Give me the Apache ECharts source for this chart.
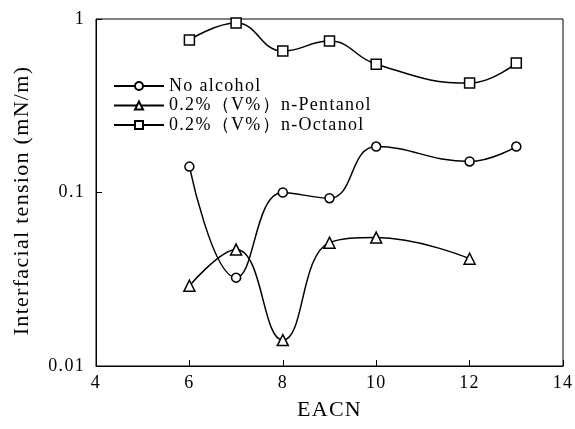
<!DOCTYPE html>
<html>
<head>
<meta charset="utf-8">
<script src="https://cdn.jsdelivr.net/npm/echarts@6/dist/echarts.min.js"></script>
<style>
  html, body { margin: 0; padding: 0; background: #fff; }
  #chart { width: 575px; height: 429px; }
</style>
</head>
<body>
<div id="chart"></div>
<script>
// Interfacial tension vs. EACN for three formulations
const eacnNoAlcohol = [6, 7, 8, 9, 10, 12, 13];
const tensionNoAlcohol = [0.141, 0.0323, 0.1, 0.0927, 0.184, 0.151, 0.184];

const eacnPentanol = [6, 7, 8, 9, 10, 12];
const tensionPentanol = [0.029, 0.0469, 0.0141, 0.0514, 0.055, 0.0415];

const eacnOctanol = [6, 7, 8, 9, 10, 12, 13];
const tensionOctanol = [0.757, 0.948, 0.653, 0.746, 0.549, 0.427, 0.557];

const seriesNames = ['No alcohol', '0.2%（V%）n-Pentanol', '0.2%（V%）n-Octanol'];
const xTicks = [4, 6, 8, 10, 12, 14];
const yTicks = [0.01, 0.1, 1];

const pair = (xs, ys) => xs.map((x, i) => [x, ys[i]]);

const font = '"Liberation Serif", "Times New Roman", serif';

// Slightly wide-set type for every label drawn on the canvas
const baseFillText = CanvasRenderingContext2D.prototype.fillText;
CanvasRenderingContext2D.prototype.fillText = function (...args) {
  const prev = this.letterSpacing;
  this.letterSpacing = '1.3px';
  baseFillText.apply(this, args);
  this.letterSpacing = prev;
};

function makeSeries(name, data, symbol, size) {
  return {
    name: name,
    type: 'line',
    data: data,
    smooth: 0.45,
    symbol: symbol,
    symbolSize: size,
    showAllSymbol: true,
    lineStyle: { color: '#000', width: 1.5 },
    itemStyle: { color: '#fff', borderColor: '#000', borderWidth: 1.5 },
    emphasis: { disabled: true }
  };
}

const chart = echarts.init(document.getElementById('chart'), null, { renderer: 'canvas' });
chart.setOption({
  animation: false,
  backgroundColor: '#fff',
  textStyle: { fontFamily: font, color: '#000' },
  grid: {
    left: 96, right: 8, top: 19, bottom: 63,
    show: true, borderColor: '#000', borderWidth: 1, backgroundColor: 'transparent'
  },
  legend: {
    left: 113, top: 77,
    padding: 0,
    orient: 'vertical',
    itemGap: 1.5,
    itemWidth: 50,
    itemHeight: 10,
    textStyle: { fontFamily: font, fontSize: 18, color: '#000' },
    data: seriesNames
  },
  xAxis: {
    type: 'value',
    min: xTicks[0], max: xTicks[xTicks.length - 1], interval: 2,
    name: 'EACN',
    nameLocation: 'middle',
    nameGap: 33,
    nameTextStyle: { fontFamily: font, fontSize: 22, color: '#000' },
    axisLine: { lineStyle: { color: '#000', width: 1 } },
    axisTick: { inside: true, length: 6, lineStyle: { color: '#000' } },
    axisLabel: { fontFamily: font, fontSize: 18, color: '#000', margin: 8 },
    splitLine: { show: false }
  },
  yAxis: {
    type: 'log',
    logBase: 10,
    min: yTicks[0], max: yTicks[yTicks.length - 1],
    name: 'Interfacial tension (mN/m)',
    nameLocation: 'middle',
    nameGap: 63,
    nameTextStyle: { fontFamily: font, fontSize: 22, color: '#000', padding: [0, 16, 0, 0] },
    axisLine: { show: true, lineStyle: { color: '#000', width: 1 } },
    axisTick: { show: true, inside: true, length: 6, lineStyle: { color: '#000' } },
    axisLabel: {
      fontFamily: font, fontSize: 18, color: '#000', margin: 11,
      formatter: v => String(Number(v.toPrecision(3)))
    },
    splitLine: { show: false },
    minorTick: { show: false }
  },
  series: [
    makeSeries(seriesNames[0], pair(eacnNoAlcohol, tensionNoAlcohol), 'circle', 9),
    makeSeries(seriesNames[1], pair(eacnPentanol, tensionPentanol), 'triangle', 11),
    makeSeries(seriesNames[2], pair(eacnOctanol, tensionOctanol), 'rect', 10)
  ]
});
</script>
</body>
</html>
